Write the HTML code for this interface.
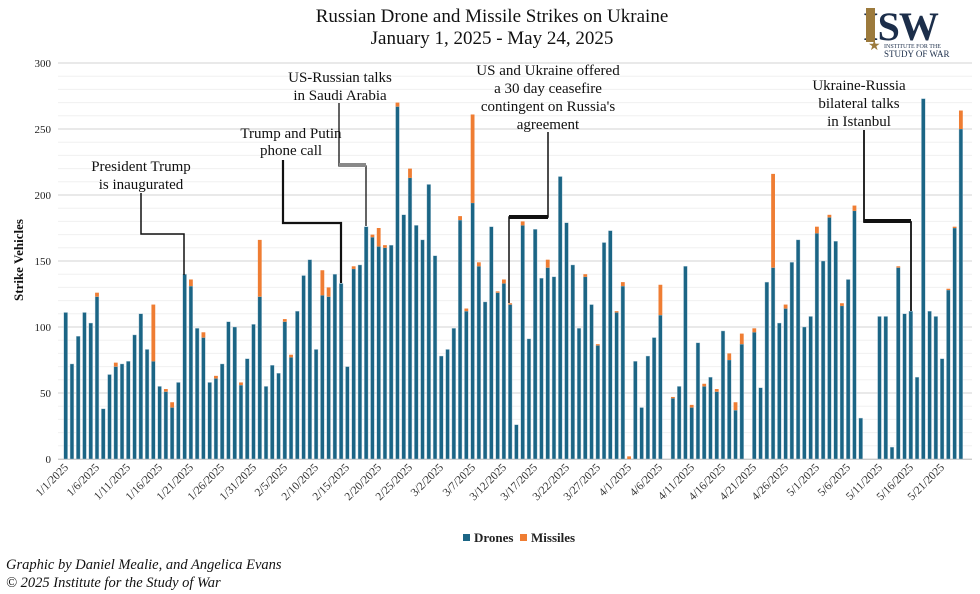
<!DOCTYPE html>
<html><head><meta charset="utf-8"><style>
html,body{margin:0;padding:0;background:#fff;}
svg{display:block;font-family:"Liberation Serif",serif;}
</style></head><body>
<svg id="s" width="980" height="594" xmlns="http://www.w3.org/2000/svg">
<rect width="980" height="594" fill="#fff"/>
<g id="grid"></g>
<g id="bars"></g>
<text x="492" y="22" text-anchor="middle" font-size="19" fill="#111">Russian Drone and Missile Strikes on Ukraine</text>
<text x="492" y="44" text-anchor="middle" font-size="19" fill="#111">January 1, 2025 - May 24, 2025</text>
<g font-size="11" fill="#222" text-anchor="end">
<text x="51" y="67">300</text><text x="51" y="133">250</text><text x="51" y="199">200</text><text x="51" y="265">150</text><text x="51" y="331">100</text><text x="51" y="397">50</text><text x="51" y="463">0</text>
</g>
<text transform="translate(23,260) rotate(-90)" text-anchor="middle" font-size="13" font-weight="bold" fill="#111">Strike Vehicles</text>
<g font-size="11.5" fill="#333" text-anchor="end">
<text transform="translate(69,468) rotate(-45)">1/1/2025</text>
<text transform="translate(100,468) rotate(-45)">1/6/2025</text>
<text transform="translate(131,468) rotate(-45)">1/11/2025</text>
<text transform="translate(163,468) rotate(-45)">1/16/2025</text>
<text transform="translate(194,468) rotate(-45)">1/21/2025</text>
<text transform="translate(225,468) rotate(-45)">1/26/2025</text>
<text transform="translate(257,468) rotate(-45)">1/31/2025</text>
<text transform="translate(288,468) rotate(-45)">2/5/2025</text>
<text transform="translate(319,468) rotate(-45)">2/10/2025</text>
<text transform="translate(350,468) rotate(-45)">2/15/2025</text>
<text transform="translate(382,468) rotate(-45)">2/20/2025</text>
<text transform="translate(413,468) rotate(-45)">2/25/2025</text>
<text transform="translate(444,468) rotate(-45)">3/2/2025</text>
<text transform="translate(476,468) rotate(-45)">3/7/2025</text>
<text transform="translate(507,468) rotate(-45)">3/12/2025</text>
<text transform="translate(538,468) rotate(-45)">3/17/2025</text>
<text transform="translate(570,468) rotate(-45)">3/22/2025</text>
<text transform="translate(601,468) rotate(-45)">3/27/2025</text>
<text transform="translate(632,468) rotate(-45)">4/1/2025</text>
<text transform="translate(663,468) rotate(-45)">4/6/2025</text>
<text transform="translate(695,468) rotate(-45)">4/11/2025</text>
<text transform="translate(726,468) rotate(-45)">4/16/2025</text>
<text transform="translate(757,468) rotate(-45)">4/21/2025</text>
<text transform="translate(789,468) rotate(-45)">4/26/2025</text>
<text transform="translate(820,468) rotate(-45)">5/1/2025</text>
<text transform="translate(851,468) rotate(-45)">5/6/2025</text>
<text transform="translate(883,468) rotate(-45)">5/11/2025</text>
<text transform="translate(914,468) rotate(-45)">5/16/2025</text>
<text transform="translate(945,468) rotate(-45)">5/21/2025</text>
</g>
<!-- annotations -->
<g font-size="15" fill="#111" text-anchor="middle">
<text x="141" y="171">President Trump</text><text x="141" y="189">is inaugurated</text>
<text x="291" y="138">Trump and Putin</text><text x="291" y="155">phone call</text>
<text x="340" y="82">US-Russian talks</text><text x="340" y="100">in Saudi Arabia</text>
<text x="548" y="75">US and Ukraine offered</text><text x="548" y="93">a 30 day ceasefire</text><text x="548" y="111">contingent on Russia's</text><text x="548" y="129">agreement</text>
<text x="859" y="90">Ukraine-Russia</text><text x="859" y="108">bilateral talks</text><text x="859" y="126">in Istanbul</text>
</g>
<g fill="none" stroke="#111">
<polyline stroke-width="1.5" points="141,193 141,234 184,234 184,275"/>
<polyline stroke-width="2.2" points="283,160 283,223 341,223 341,283"/>
<polyline stroke-width="1.3" points="339,103 339,166 366,166 366,226"/>
<line x1="339" y1="165" x2="366" y2="165" stroke="#888" stroke-width="4"/>
<polyline stroke-width="1.5" points="548,132 548,217 509,217 509,303"/>
<line x1="509" y1="217" x2="548" y2="217" stroke-width="4"/>
<polyline stroke-width="1.8" points="864,130 864,222 911,222 911,311"/>
<line x1="864" y1="221" x2="911" y2="221" stroke-width="4"/>
</g>
<!-- legend -->
<rect x="463" y="534" width="7" height="7" fill="#1b6585"/>
<text x="474" y="542" font-size="13" font-weight="bold" fill="#222">Drones</text>
<rect x="520" y="534" width="7" height="7" fill="#ef7d33"/>
<text x="531" y="542" font-size="13" font-weight="bold" fill="#222">Missiles</text>
<g font-size="14.5" font-style="italic" fill="#111">
<text x="6" y="569">Graphic by Daniel Mealie, and Angelica Evans</text>
<text x="6" y="587">© 2025 Institute for the Study of War</text>
</g>
<!-- logo -->
<text x="863" y="40" font-size="40" fill="#1c2e4a" font-weight="bold" letter-spacing="-1">ISW</text>
<rect x="866" y="8" width="9" height="34" fill="#9c7a3c"/>
<text x="868" y="50" font-size="14" fill="#9c7a3c">★</text>
<text x="884" y="48" font-size="6" fill="#1c2e4a">INSTITUTE FOR THE</text>
<text x="884" y="57" font-size="9" fill="#1c2e4a">STUDY OF WAR</text>
</svg>
<script>
var d=[111,72,93,111,103,123,38,64,70,72,74,94,110,83,74,55,51,39,58,140,131,99,92,58,61,72,104,100,56,76,102,123,55,71,65,104,77,112,139,151,83,124,123,140,133,70,144,147,176,168,161,160,162,267,185,213,177,166,208,154,78,83,99,181,112,194,146,119,176,126,133,117,26,177,91,174,137,145,138,214,179,147,99,138,117,86,164,173,111,131,0,74,39,78,92,109,0,46,55,146,39,88,55,62,51,97,75,37,87,0,96,54,134,145,103,114,149,166,100,108,171,150,183,165,116,136,188,31,0,0,108,108,9,145,110,112,62,273,112,108,76,128,175,250];
var t={6:126,9:73,15:117,17:53,18:43,21:136,23:96,25:63,29:58,32:166,36:106,37:79,42:143,43:130,47:146,50:170,51:175,52:162,54:270,56:220,64:184,65:114,66:261,67:149,70:127,71:136,72:118,74:180,78:151,84:140,86:87,89:112,90:134,91:2,96:132,98:47,101:41,103:57,105:53,107:80,108:43,109:95,111:99,114:216,116:117,121:176,123:185,125:118,127:192,134:146,142:129,143:176,144:264};
var NS="http://www.w3.org/2000/svg",g=document.getElementById('grid'),b=document.getElementById('bars');
function el(p,tag,a){var e=document.createElementNS(NS,tag);for(var k in a)e.setAttribute(k,a[k]);p.appendChild(e);return e;}
for(var v=0;v<=300;v+=10){var y=459-v*1.32;el(g,'line',{x1:58,x2:972,y1:y,y2:y,stroke:v%50==0?'#dcdcdc':'#f0f0f0','stroke-width':v%50==0?1.3:1});}
el(g,'line',{x1:58,x2:972,y1:459.5,y2:459.5,stroke:'#ccc','stroke-width':1});
for(var i=0;i<d.length;i++){var x=65.7+6.26*i-1.9,dr=d[i],tot=t[i+1]||dr;
if(dr>0)el(b,'rect',{x:x,y:459-dr*1.32,width:3.8,height:dr*1.32,fill:'#1b6585',stroke:'#b9cfdc','stroke-width':0.4});
if(tot>dr)el(b,'rect',{x:x,y:459-tot*1.32,width:3.8,height:(tot-dr)*1.32,fill:'#ef7d33'});}
</script>
</body></html>
